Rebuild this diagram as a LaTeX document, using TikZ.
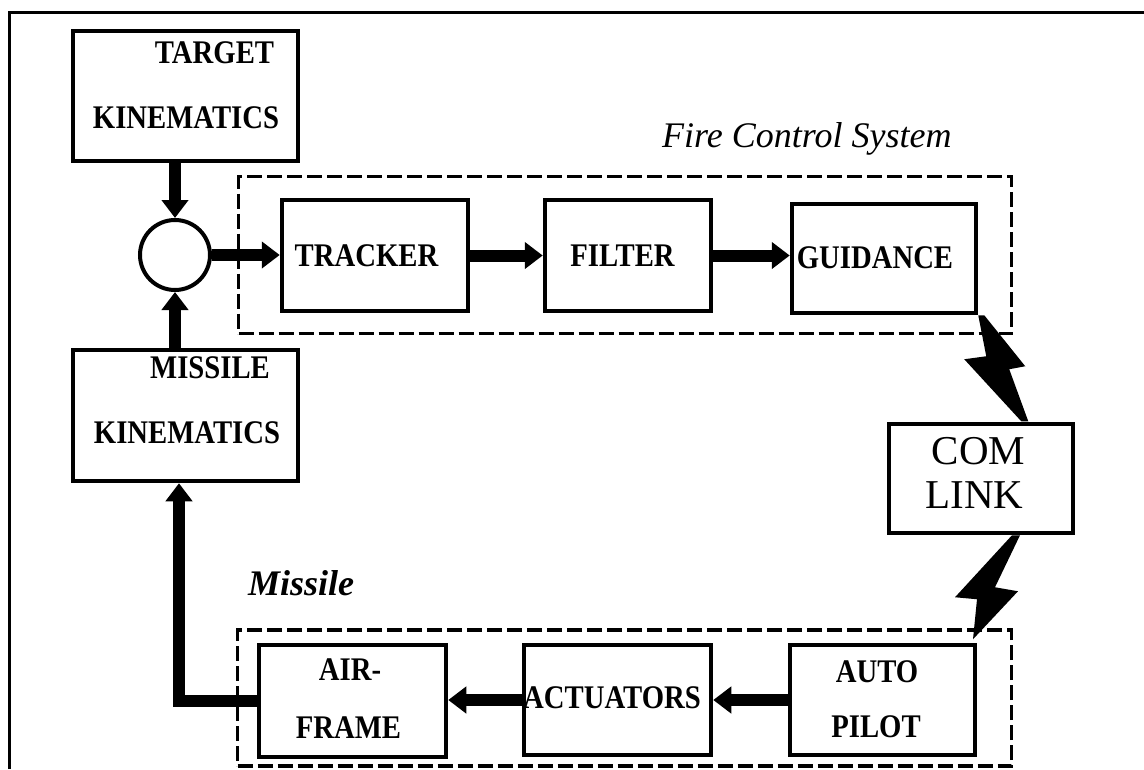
\documentclass[tikz,border=0pt]{standalone}
\usepackage{fontspec}
\setmainfont{Liberation Serif}
\newfontfamily\bxfont{Liberation Serif}[FakeStretch=0.87]
\usetikzlibrary{arrows.meta,calc}
\begin{document}
\begin{tikzpicture}[x=1pt,y=-1pt,
  blk/.style={draw, line width=4.5pt, inner sep=0pt},
  lbl/.style={font=\bxfont\bfseries\fontsize{33}{33}\selectfont, inner sep=0pt},
  arr/.style={line width=12pt, -{Triangle[length=18pt,width=26pt]}},
  grp/.style={draw, line width=3.5pt, dash pattern=on 15pt off 5pt},
  bolt/.style={fill=black}]
\fill[white] (0,0) rectangle (1144,769);
\useasboundingbox (0,0) rectangle (1144,769);
% outer frame
\draw[line width=3pt] (9,769) -- (9,12) -- (1144,12);
% group frames
\node[grp, minimum width=773pt, minimum height=157pt] (fcs) at (625,255) {};
\node[grp, minimum width=774pt, minimum height=136pt] (msl) at (624.5,698) {};
\node[anchor=base west, inner sep=0pt, font=\itshape\fontsize{36}{36}\selectfont] (fcsl) at (662,147) {Fire Control System};
\node[anchor=base west, inner sep=0pt, font=\bfseries\itshape\fontsize{36}{36}\selectfont] (msll) at (248,595) {Missile};
% blocks
\node[blk, minimum width=225pt, minimum height=130pt] (tk) at (185.5,96) {};
\node[blk, minimum width=225pt, minimum height=131pt] (mk) at (185.5,415.5) {};
\node[draw, circle, line width=4pt, minimum size=70pt, inner sep=0pt] (sum) at (175,255) {};
\node[blk, minimum width=186pt, minimum height=111pt] (tr) at (375,255.5) {};
\node[blk, minimum width=166pt, minimum height=111pt] (fi) at (628,255.5) {};
\node[blk, minimum width=184pt, minimum height=109pt] (gu) at (884,258.5) {};
\node[blk, minimum width=184pt, minimum height=109pt] (cl) at (981,478.5) {};
\node[blk, minimum width=187pt, minimum height=112pt] (af) at (352.5,701) {};
\node[blk, minimum width=187pt, minimum height=110pt] (ac) at (617.5,700) {};
\node[blk, minimum width=185pt, minimum height=110pt] (ap) at (882.5,700) {};
% texts
\node[lbl] (t1) at (214.5,52.5) {TARGET};
\node[lbl] (t2) at (186,118) {KINEMATICS};
\node[lbl] (m1) at (210,367.5) {MISSILE};
\node[lbl] (m2) at (187,432.5) {KINEMATICS};
\node[lbl] (trl) at (366.5,256) {TRACKER};
\node[lbl] (fil) at (622.5,256) {FILTER};
\node[lbl] (gul) at (875,257.5) {GUIDANCE};
\node[lbl] (af1) at (350,670) {AIR-};
\node[lbl] (af2) at (348.5,728) {FRAME};
\node[lbl] (acl) at (612,698) {ACTUATORS};
\node[lbl] (ap1) at (877,672) {AUTO};
\node[lbl] (ap2) at (876,727) {PILOT};
\node[inner sep=0pt, font=\fontsize{41}{41}\selectfont] (cl1) at (978.5,451.5) {COM};
\node[inner sep=0pt, font=\fontsize{41}{41}\selectfont] (cl2) at (974.5,495.5) {LINK};
% arrows
\draw[arr] (tk.south -| sum.north) -- (sum.north);
\draw[arr] (mk.north -| sum.south) -- (sum.south);
\draw[arr] (sum.east) -- (sum.east -| tr.west);
\draw[arr] (tr.east) -- (fi.west);
\draw[arr] (fi.east) -- (fi.east -| gu.west);
\draw[arr] (ap.west) -- (ap.west -| ac.east);
\draw[arr] (ac.west) -- (ac.west -| af.east);
\draw[arr] (af.west) -| ([xshift=-6.5pt]mk.south);
% lightning links
\fill[bolt] (gu.south east) -- ++(6,0) -- ++(41,51) -- ++(-16,3) -- ++(19,52) -- ++(-7,0) -- ++(-57,-62) -- ++(22,-3) -- cycle;
\fill[bolt] ([xshift=31pt]cl.south) -- ++(8,0) -- ++(-25,52) -- ++(23,4) -- ++(-45,48) -- ++(4,-40) -- ++(-22,-2) -- cycle;
\end{tikzpicture}
\end{document}
